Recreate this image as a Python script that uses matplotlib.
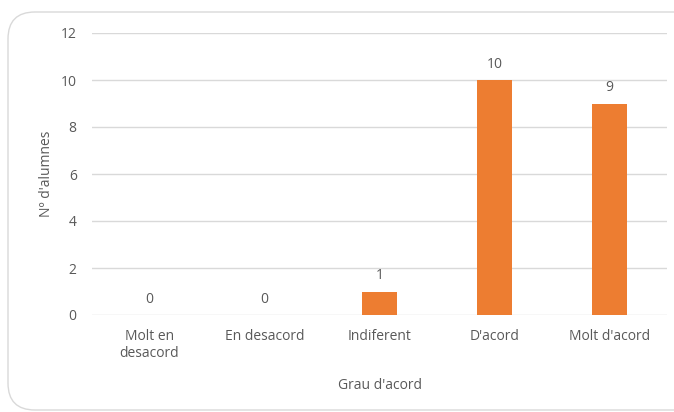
import matplotlib
matplotlib.use("Agg")
import matplotlib.pyplot as plt
from matplotlib.patches import FancyBboxPatch

categories = ["Molt en\ndesacord", "En desacord", "Indiferent", "D'acord", "Molt d'acord"]
values = [0, 0, 1, 10, 9]
yticks = [0, 2, 4, 6, 8, 10, 12]

plt.rcParams['font.family'] = ['Open Sans', 'DejaVu Sans']
txt = '#595959'
fs = 10

fig = plt.figure(figsize=(6.74, 4.12), dpi=100)
border = FancyBboxPatch((8/674, 2/412), 700/674, 398/412,
                        boxstyle="round,pad=0,rounding_size=0.04",
                        transform=fig.transFigure, facecolor='white',
                        edgecolor='#d9d9d9', linewidth=1.0, mutation_aspect=674/412,
                        zorder=-10)
fig.patches.append(border)

ax = fig.add_axes([92/674, 1-315/412, 575/674, (315-33)/412])
ax.set_zorder(5)
ax.set_facecolor('none')
x = range(len(categories))
bars = ax.bar(x, values, width=0.31, color='#ED7D31', zorder=3)
for xi, v in zip(x, values):
    ax.text(xi, v + 0.35, str(v), ha='center', va='bottom', fontsize=fs, color=txt)
ax.set_ylim(0, 12)
ax.set_xlim(-0.5, len(categories) - 0.5)
ax.set_yticks(yticks)
ax.set_xticks(list(x))
ax.set_xticklabels(categories, fontsize=fs, color=txt)
ax.tick_params(axis='y', labelsize=fs, colors=txt, length=0, pad=11)
ax.tick_params(axis='x', length=0, pad=10, colors=txt)
ax.grid(axis='y', color='#d9d9d9', linewidth=1, zorder=0)
for s in ax.spines.values():
    s.set_visible(False)
ax.set_ylabel("Nº d'alumnes", fontsize=fs, color=txt, labelpad=5)
ax.set_xlabel("Grau d'acord", fontsize=fs, color=txt, labelpad=12)

fig.savefig("out.png", dpi=100)
